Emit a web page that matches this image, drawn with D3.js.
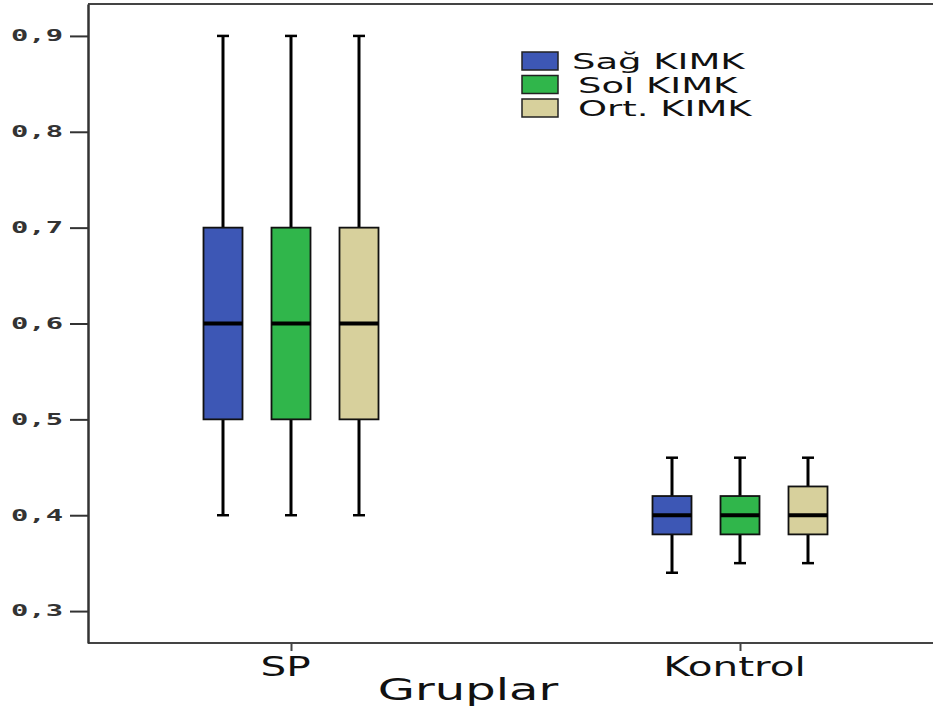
<!DOCTYPE html>
<html>
<head>
<meta charset="utf-8">
<script src="https://cdn.jsdelivr.net/npm/d3@7"></script>
<style>
  body { margin: 0; background: #fff; }
  svg { display: block; }
</style>
</head>
<body>
<div id="chart"></div>
<script>
// groups on the x axis, one box per series in each group
const groups = ["SP", "Kontrol"];
const series = ["Sağ KIMK", "Sol KIMK", "Ort. KIMK"];
// five-number summaries [min, q1, median, q3, max], one per series
const spStats = [
  [0.40, 0.50, 0.60, 0.70, 0.90],
  [0.40, 0.50, 0.60, 0.70, 0.90],
  [0.40, 0.50, 0.60, 0.70, 0.90]
];
const kontrolStats = [
  [0.34, 0.38, 0.40, 0.42, 0.46],
  [0.35, 0.38, 0.40, 0.42, 0.46],
  [0.35, 0.38, 0.40, 0.43, 0.46]
];
const yTicks = [0.3, 0.4, 0.5, 0.6, 0.7, 0.8, 0.9];
const xTitle = "Gruplar";

const width = 933, height = 711;
const plotLeft = 88, plotRight = 933, plotTop = 4, plotBottom = 643;

let svg = d3.select("#chart").append("svg")
  .attr("width", width)
  .attr("height", height);

let y = d3.scaleLinear()
  .domain([0.2667, 0.9333])
  .range([plotBottom, plotTop]);

let x = d3.scalePoint()
  .domain(groups)
  .range([291, 740]);

let xInner = d3.scalePoint()
  .domain(series)
  .range([-68, 68]);

let color = d3.scaleOrdinal()
  .domain(series)
  .range(["#3d57b5", "#30b64b", "#d7d09c"]);

// stretch text horizontally like the wide lettering in the picture
function stretch(sel, k) {
  sel.each(function() {
    let w = this.getComputedTextLength();
    d3.select(this)
      .attr("textLength", w * k)
      .attr("lengthAdjust", "spacingAndGlyphs");
  });
}

// frame lines top and bottom
svg.append("line")
  .attr("x1", plotLeft).attr("x2", plotRight)
  .attr("y1", plotTop).attr("y2", plotTop)
  .attr("stroke", "#444").attr("stroke-width", 2);
svg.append("line")
  .attr("x1", plotLeft).attr("x2", plotRight)
  .attr("y1", plotBottom).attr("y2", plotBottom)
  .attr("stroke", "#444").attr("stroke-width", 2);

// y axis
let yAxis = svg.append("g")
  .attr("transform", `translate(${plotLeft},0)`)
  .call(d3.axisLeft(y)
    .tickValues(yTicks)
    .tickSize(18)
    .tickSizeOuter(0)
    .tickPadding(7)
    .tickFormat(d => d3.format(".1f")(d).replace(".", ",")));

yAxis.select(".domain").attr("stroke", "#333").attr("stroke-width", 2.5);
yAxis.selectAll(".tick line").attr("stroke", "#333").attr("stroke-width", 2);
yAxis.selectAll(".tick text")
  .attr("font-family", "DejaVu Sans Mono")
  .attr("font-size", 15)
  .attr("font-weight", "bold")
  .attr("fill", "#333")
  .call(stretch, 1.92);

// x axis
let xAxis = svg.append("g")
  .attr("transform", `translate(0,${plotBottom})`)
  .call(d3.axisBottom(x).tickSize(8).tickSizeOuter(0));

xAxis.select(".domain").remove();
xAxis.selectAll(".tick line").attr("stroke", "#444").attr("stroke-width", 2);
xAxis.selectAll(".tick text")
  .attr("font-family", "DejaVu Sans")
  .attr("font-size", 27)
  .attr("fill", "#111")
  .attr("x", -6)
  .attr("y", 33)
  .attr("dy", 0)
  .call(stretch, 1.5);

svg.append("text")
  .attr("x", 468)
  .attr("y", 700)
  .attr("text-anchor", "middle")
  .attr("font-family", "DejaVu Sans")
  .attr("font-size", 30)
  .attr("fill", "#111")
  .text(xTitle)
  .call(stretch, 1.6);

// boxes
let boxData = [];
groups.forEach((g, gi) => {
  let stats = gi === 0 ? spStats : kontrolStats;
  series.forEach((s, si) => {
    let v = stats[si];
    boxData.push({ group: g, series: s, min: v[0], q1: v[1], med: v[2], q3: v[3], max: v[4] });
  });
});

let boxW = 39, capW = 12;

let boxes = svg.append("g").selectAll("g")
  .data(boxData)
  .enter()
  .append("g")
  .attr("transform", d => `translate(${x(d.group) + xInner(d.series)},0)`);

// whiskers
boxes.append("line")
  .attr("x1", 0).attr("x2", 0)
  .attr("y1", d => y(d.max)).attr("y2", d => y(d.q3))
  .attr("stroke", "#000").attr("stroke-width", 3);
boxes.append("line")
  .attr("x1", 0).attr("x2", 0)
  .attr("y1", d => y(d.q1)).attr("y2", d => y(d.min))
  .attr("stroke", "#000").attr("stroke-width", 3);
boxes.append("line")
  .attr("x1", -capW / 2).attr("x2", capW / 2)
  .attr("y1", d => y(d.max)).attr("y2", d => y(d.max))
  .attr("stroke", "#000").attr("stroke-width", 2.5);
boxes.append("line")
  .attr("x1", -capW / 2).attr("x2", capW / 2)
  .attr("y1", d => y(d.min)).attr("y2", d => y(d.min))
  .attr("stroke", "#000").attr("stroke-width", 2.5);

boxes.append("rect")
  .attr("x", -boxW / 2)
  .attr("width", boxW)
  .attr("y", d => y(d.q3))
  .attr("height", d => y(d.q1) - y(d.q3))
  .attr("fill", d => color(d.series))
  .attr("stroke", "#111")
  .attr("stroke-width", 1.8);

boxes.append("line")
  .attr("x1", -boxW / 2).attr("x2", boxW / 2)
  .attr("y1", d => y(d.med)).attr("y2", d => y(d.med))
  .attr("stroke", "#000").attr("stroke-width", 4);

// legend
let legend = svg.append("g")
  .attr("transform", "translate(522,52)")
  .selectAll("g")
  .data(series)
  .enter()
  .append("g")
  .attr("transform", (d, i) => `translate(0,${i * 23.5})`);

legend.append("rect")
  .attr("width", 36)
  .attr("height", 18)
  .attr("fill", d => color(d))
  .attr("stroke", "#222")
  .attr("stroke-width", 1.5);

legend.append("text")
  .attr("x", (d, i) => i === 0 ? 50 : 56)
  .attr("y", 17)
  .attr("font-family", "DejaVu Sans")
  .attr("font-size", 21)
  .attr("fill", "#111")
  .text(d => d)
  .call(stretch, 1.76);
</script>
</body>
</html>
